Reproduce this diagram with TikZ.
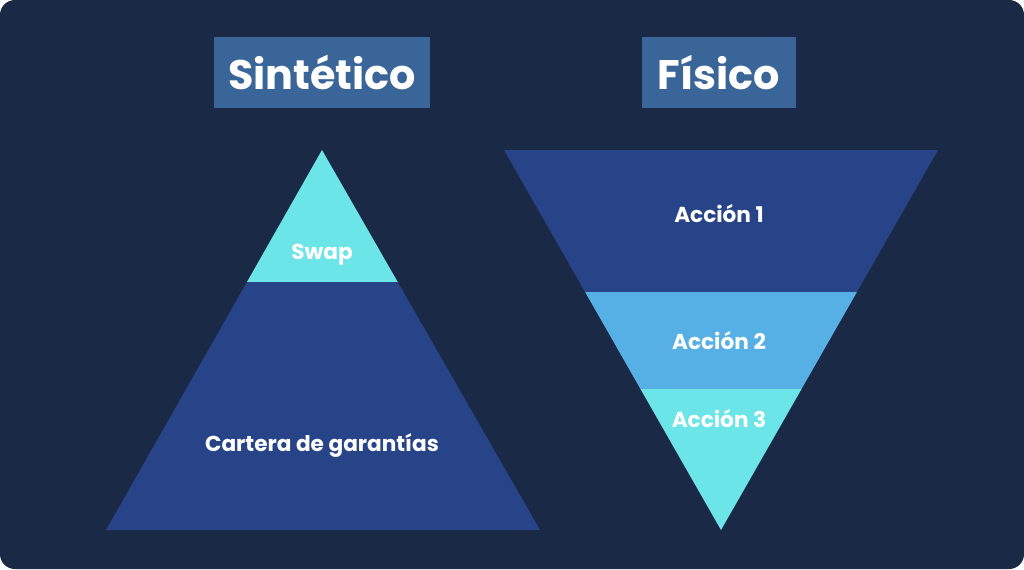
\documentclass[tikz,border=0pt]{standalone}
\usepackage{fontspec}
\setmainfont{Poppins}
\usepackage{tikz}
\usetikzlibrary{positioning}

\definecolor{bgnavy}{HTML}{1A2945}
\definecolor{titleblue}{HTML}{3A6599}
\definecolor{darkband}{HTML}{284489}
\definecolor{lightband}{HTML}{56B0E6}
\definecolor{cyanband}{HTML}{6BE5E8}

\tikzstyle{titlebox} = [rectangle, fill=titleblue, text=white, font=\fontsize{23.5}{27}\selectfont\bfseries, inner sep=0pt, text centered]
\tikzstyle{bandlabel} = [text=white, font=\fontsize{12.3}{14}\selectfont\bfseries, inner sep=0pt]

\begin{document}
\begin{tikzpicture}[x=0.02cm, y=-0.02cm]

\useasboundingbox (0,0) rectangle (1024,569);
\fill[white] (0,0) rectangle (1024,569);
\fill[bgnavy, rounded corners=8.5pt] (0,0) rectangle (1024,569);

%% COORDINATES

\coordinate (sApex) at (322,150);
\coordinate (sLeft) at (106,530);
\coordinate (sRight) at (540,530);
\coordinate (fLeft) at (504,150);
\coordinate (fRight) at (938,150);
\coordinate (fApex) at (721,530);

%% PYRAMID

\begin{scope}
\clip (sApex) -- (sLeft) -- (sRight) -- cycle;
\fill[cyanband] (100,140) rectangle (545,282);
\fill[darkband] (100,282) rectangle (545,535);
\end{scope}

%% FUNNEL

\begin{scope}
\clip (fLeft) -- (fRight) -- (fApex) -- cycle;
\fill[darkband] (500,145) rectangle (945,292);
\fill[lightband] (500,292) rectangle (945,389);
\fill[cyanband] (500,389) rectangle (945,535);
\end{scope}

%% NODES

\node (sint) [titlebox, minimum width=216*0.02cm, minimum height=71*0.02cm] at (322,72.5) {Sintético};
\node (fisi) [titlebox, minimum width=154*0.02cm, minimum height=71*0.02cm] at (719,72.5) {Físico};

\node (swap) [bandlabel] at (322,255) {Swap};
\node (cartera) [bandlabel] at (322,445) {Cartera de garantías};

\node (acc1) [bandlabel] at (719,214) {Acción 1};
\node (acc2) [bandlabel] at (719,341) {Acción 2};
\node (acc3) [bandlabel] at (719,419) {Acción 3};

\end{tikzpicture}
\end{document}
